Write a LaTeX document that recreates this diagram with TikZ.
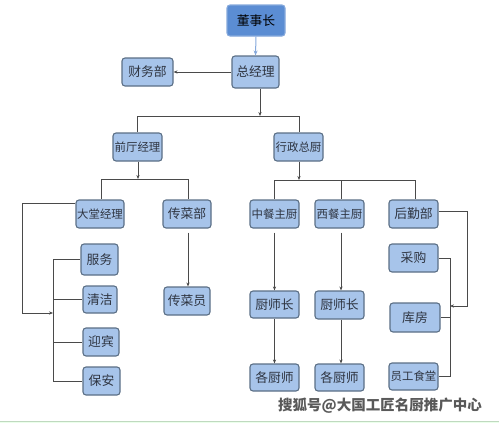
\documentclass[tikz,border=0pt]{standalone}
\usepackage{fontspec}
\newfontfamily\cjk{Noto Sans CJK SC}
\usetikzlibrary{arrows.meta}
\definecolor{boxfill}{HTML}{A7C4EA}
\definecolor{boxline}{HTML}{5B6F86}
\definecolor{topfill}{HTML}{5B8DD3}
\definecolor{topline}{HTML}{86A9DC}
\definecolor{lnk}{HTML}{4A4A4A}
\definecolor{txt}{HTML}{2E3440}
\begin{document}
\begin{tikzpicture}[x=1pt,y=-1pt,
  box/.style={draw=boxline,line width=1.1pt,fill=boxfill,rounded corners=3pt,inner sep=0pt,
    font=\cjk\fontsize{12.8}{13}\selectfont,text=txt},
  box4/.style={box,font=\cjk\fontsize{11.4}{12}\selectfont},
  lk/.style={draw=lnk,line width=0.9pt},
  arr/.style={lk,-{Stealth[length=4pt,width=3.2pt]}}]
\useasboundingbox (0,0) rectangle (499,423);
\fill[white] (0,0) rectangle (499,423);
\fill[green!8] (0,421) rectangle (499,423);
\draw[green!25!gray!40,line width=0.6pt] (0,421) -- (499,421);
% nodes
\node[box,fill=topfill,draw=topline,text=black,minimum width=58,minimum height=31] (dsz) at (256,20.5) {董事长};
\node[box,minimum width=47,minimum height=32] (zjl) at (255.5,72) {总经理};
\node[box,minimum width=51,minimum height=28] (cwb) at (147.5,72) {财务部};
\node[box4,minimum width=49,minimum height=28] (qtjl) at (137.5,147) {前厅经理};
\node[box4,minimum width=49,minimum height=28] (xzzc) at (298.5,147) {行政总厨};
\node[box4,minimum width=48,minimum height=28] (dtjl) at (100,214) {大堂经理};
\node[box,minimum width=48,minimum height=28] (cxb) at (187,214) {传菜部};
\node[box,minimum width=37,minimum height=31] (fw) at (99.5,259.5) {服务};
\node[box,minimum width=34,minimum height=27] (qj) at (100,299.5) {清洁};
\node[box,minimum width=36,minimum height=28] (yb) at (101,342) {迎宾};
\node[box,minimum width=37,minimum height=28] (ba) at (101.5,381) {保安};
\node[box,minimum width=46,minimum height=28] (cxy) at (187,301) {传菜员};
\node[box4,minimum width=49,minimum height=28] (zczc) at (274.5,214) {中餐主厨};
\node[box4,minimum width=49,minimum height=28] (xczc) at (339.5,214) {西餐主厨};
\node[box,minimum width=49,minimum height=28] (hqb) at (413.5,214) {后勤部};
\node[box,minimum width=49,minimum height=27] (csz1) at (274.5,304.5) {厨师长};
\node[box,minimum width=49,minimum height=28] (csz2) at (339.5,305) {厨师长};
\node[box,minimum width=49,minimum height=27] (gcs1) at (274.5,377.5) {各厨师};
\node[box,minimum width=49,minimum height=27] (gcs2) at (339.5,377.5) {各厨师};
\node[box,minimum width=49,minimum height=28] (cg) at (413.5,258) {采购};
\node[box,minimum width=50,minimum height=29] (kf) at (415,317.5) {库房};
\node[box4,minimum width=49,minimum height=27] (ygst) at (413.5,376.5) {员工食堂};
% coordinates
\coordinate (b1) at (260,116);
\coordinate (b1l) at (137,116);
\coordinate (b1r) at (299,116);
\coordinate (b2) at (138,179);
\coordinate (b2l) at (101,179);
\coordinate (b2r) at (188,179);
\coordinate (b3) at (299,180);
\coordinate (b3l) at (274,180);
\coordinate (b3m) at (341,180);
\coordinate (b3r) at (415,180);
\coordinate (lbar) at (53,313);
\coordinate (lbt) at (53,259.5);
\coordinate (lbb) at (53,381);
\coordinate (rbar) at (450,306);
% connectors
\draw[lk,draw=topline,line width=1pt,-{Stealth[length=5pt,width=4pt]}] (dsz.south) -- (zjl.north);
\draw[arr] (zjl.west) -- (cwb.east);
\draw[arr] (zjl.south -| b1) -- (b1);
\draw[lk] (b1l) -- (b1r);
\draw[lk] (b1l) -- (qtjl.north -| b1l);
\draw[lk] (b1r) -- (xzzc.north -| b1r);
\draw[arr] (qtjl.south -| b2) -- (b2);
\draw[lk] (b2l) -- (b2r);
\draw[lk] (b2l) -- (dtjl.north -| b2l);
\draw[lk] (b2r) -- (cxb.north -| b2r);
\draw[arr,shorten <=4pt] (cxb.south -| b2r) -- (cxy.north -| b2r);
\draw[arr] (dtjl.west |- 0,203) -- (22,203) -- (22,313) -- (lbar);
\draw[lk] (lbt) -- (lbb);
\draw[lk] (lbt) -- (fw.west);
\draw[lk] (53,299.5) -- (qj.west);
\draw[lk] (53,342) -- (yb.west);
\draw[lk] (lbb) -- (ba.west);
\draw[arr] (xzzc.south -| b3) -- (b3);
\draw[lk] (b3l) -- (b3r);
\draw[lk] (b3l) -- (zczc.north -| b3l);
\draw[lk] (b3m) -- (xczc.north -| b3m);
\draw[lk] (b3r) -- (hqb.north -| b3r);
\draw[arr,shorten <=4pt] (zczc.south) -- (csz1.north);
\draw[arr,shorten <=4pt] (xczc.south -| b3m) -- (csz2.north -| b3m);
\draw[arr] (csz1.south) -- (gcs1.north);
\draw[arr] (csz2.south -| b3m) -- (gcs2.north -| b3m);
\draw[arr] (hqb.east |- 0,211) -- (467,211) -- (467,306) -- (rbar);
\draw[lk] (cg.east) -- (450,258) -- (450,376.5) -- (ygst.east);
\draw[lk] (kf.east) -- (450,317.5);
% watermark
\node[font=\cjk\bfseries\fontsize{14.5}{15}\selectfont,text=gray!70!black,inner sep=0pt] (wm) at (380,406) {搜狐号@大国工匠名厨推广中心};
\end{tikzpicture}
\end{document}
